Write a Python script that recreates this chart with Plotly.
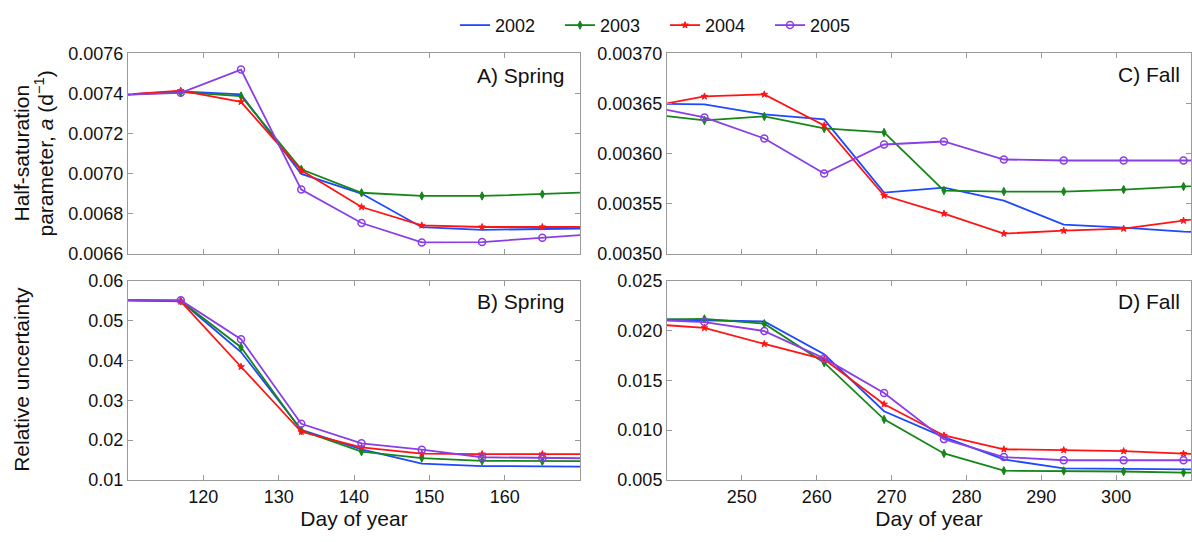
import plotly.graph_objects as go

W, H = 1192, 542

# ---------------- data ----------------
years = ["2002", "2003", "2004", "2005"]

spring_days = [109, 117, 125, 133, 141, 149, 157, 165, 173]
fall_days = [237, 245, 253, 261, 269, 277, 285, 293, 301, 309, 317]

# A) Spring: half-saturation parameter a
a_spring_2002 = [0.007393, 0.007410, 0.007395, 0.006998, 0.006900, 0.006732, 0.006719, 0.006725, 0.006727]
a_spring_2003 = [0.007393, 0.007406, 0.007387, 0.007021, 0.006904, 0.006888, 0.006888, 0.006897, 0.006908]
a_spring_2004 = [0.007393, 0.007414, 0.007358, 0.007016, 0.006833, 0.006741, 0.006733, 0.006733, 0.006733]
a_spring_2005 = [0.007393, 0.007403, 0.007519, 0.006920, 0.006753, 0.006656, 0.006658, 0.006680, 0.006701]

# B) Spring: relative uncertainty
u_spring_2002 = [0.0551, 0.0549, 0.0421, 0.0226, 0.0177, 0.0141, 0.0135, 0.0134, 0.0133]
u_spring_2003 = [0.0551, 0.0549, 0.0433, 0.0224, 0.0171, 0.0155, 0.0148, 0.0147, 0.0147]
u_spring_2004 = [0.0551, 0.0548, 0.0384, 0.0221, 0.0182, 0.0166, 0.0165, 0.0165, 0.0165]
u_spring_2005 = [0.0551, 0.0551, 0.0453, 0.0241, 0.0192, 0.0176, 0.0157, 0.0155, 0.0154]

# C) Fall: half-saturation parameter a
a_fall_2002 = [0.003650, 0.003649, 0.003639, 0.003634, 0.003561, 0.003566, 0.003553, 0.003529, 0.003526, 0.003522, 0.003520]
a_fall_2003 = [0.003640, 0.003633, 0.003637, 0.003625, 0.003621, 0.003563, 0.003562, 0.003562, 0.003564, 0.003567, 0.003570]
a_fall_2004 = [0.003646, 0.003657, 0.003659, 0.003628, 0.003558, 0.003540, 0.003520, 0.003523, 0.003525, 0.003533, 0.003541]
a_fall_2005 = [0.003648, 0.003636, 0.003615, 0.003580, 0.003609, 0.003612, 0.003594, 0.003593, 0.003593, 0.003593, 0.003593]

# D) Fall: relative uncertainty
u_fall_2002 = [0.02115, 0.02106, 0.02090, 0.01761, 0.01190, 0.00930, 0.00706, 0.00617, 0.00610, 0.00605, 0.00603]
u_fall_2003 = [0.02110, 0.02116, 0.02068, 0.01677, 0.01108, 0.00766, 0.00593, 0.00591, 0.00585, 0.00574, 0.00570]
u_fall_2004 = [0.02068, 0.02026, 0.01865, 0.01710, 0.01260, 0.00947, 0.00808, 0.00800, 0.00790, 0.00765, 0.00740]
u_fall_2005 = [0.02110, 0.02084, 0.01994, 0.01720, 0.01372, 0.00910, 0.00730, 0.00698, 0.00698, 0.00698, 0.00698]

spring_ticks = [120, 130, 140, 150, 160]
fall_ticks = [250, 260, 270, 280, 290, 300]
a_spring_ticks = [0.0066, 0.0068, 0.0070, 0.0072, 0.0074, 0.0076]
u_spring_ticks = [0.01, 0.02, 0.03, 0.04, 0.05, 0.06]
a_fall_ticks = [0.00350, 0.00355, 0.00360, 0.00365, 0.00370]
u_fall_ticks = [0.005, 0.010, 0.015, 0.020, 0.025]

# ---------------- style ----------------
FONT = "Liberation Sans, Arial, Helvetica, sans-serif"
colors = {"2002": "#1f48ff", "2003": "#16861a", "2004": "#ff1414", "2005": "#8a3ee6"}
markers = {
    "2002": None,
    "2003": dict(symbol="diamond-tall", size=6, line=dict(width=1)),
    "2004": dict(symbol="star", size=5, line=dict(width=1)),
    "2005": dict(symbol="circle-open", size=7, line=dict(width=1.5)),
}

panels = [
    ("x", "y", spring_days, [a_spring_2002, a_spring_2003, a_spring_2004, a_spring_2005], True),
    ("x2", "y2", spring_days, [u_spring_2002, u_spring_2003, u_spring_2004, u_spring_2005], False),
    ("x3", "y3", fall_days, [a_fall_2002, a_fall_2003, a_fall_2004, a_fall_2005], False),
    ("x4", "y4", fall_days, [u_fall_2002, u_fall_2003, u_fall_2004, u_fall_2005], False),
]

fig = go.Figure()
for xa, ya, days, series, show in panels:
    for yr, vals in zip(years, series):
        mk = markers[yr]
        kw = {}
        if mk is None:
            mode = "lines"
        else:
            mode = "lines+markers"
            m = dict(mk)
            m["color"] = colors[yr]
            m["line"] = dict(m["line"], color=colors[yr])
            kw["marker"] = m
        fig.add_trace(go.Scatter(
            x=days, y=vals, mode=mode, name=yr, legendgroup=yr, showlegend=show,
            line=dict(color=colors[yr], width=1.8), xaxis=xa, yaxis=ya, **kw))

axis_common = dict(
    showline=True, linecolor="#9a9a9a", linewidth=1, mirror="ticks",
    ticks="inside", ticklen=5, tickwidth=1, tickcolor="#9a9a9a",
    showgrid=False, zeroline=False,
    tickfont=dict(family=FONT, size=18, color="#111111"),
)

xl = [128 / W, 580 / W]
xr = [667 / W, 1191 / W]
yt = [1 - 253 / H, 1 - 45 / H]
yb = [1 - 488 / H, 1 - 281 / H]

xtitle = dict(text="Day of year", font=dict(family=FONT, size=21, color="#111111"), standoff=4)

fig.update_layout(
    width=W, height=H,
    margin=dict(l=0, r=0, t=0, b=0),
    paper_bgcolor="white", plot_bgcolor="white",
    font=dict(family=FONT, color="#111111"),
    xaxis=dict(axis_common, domain=xl, range=[110, 170], anchor="y",
               tickvals=spring_ticks, showticklabels=False),
    yaxis=dict(axis_common, domain=yt, range=[0.0066, 0.0076], anchor="x",
               tickvals=a_spring_ticks, tickformat=".4f"),
    xaxis2=dict(axis_common, domain=xl, range=[110, 170], anchor="y2",
                tickvals=spring_ticks, title=xtitle),
    yaxis2=dict(axis_common, domain=yb, range=[0.01, 0.06], anchor="x2",
                tickvals=u_spring_ticks, tickformat=".2f"),
    xaxis3=dict(axis_common, domain=xr, range=[240, 310], anchor="y3",
                tickvals=fall_ticks, showticklabels=False),
    yaxis3=dict(axis_common, domain=yt, range=[0.0035, 0.0037], anchor="x3",
                tickvals=a_fall_ticks, tickformat=".5f"),
    xaxis4=dict(axis_common, domain=xr, range=[240, 310], anchor="y4",
                tickvals=fall_ticks, title=xtitle),
    yaxis4=dict(axis_common, domain=yb, range=[0.005, 0.025], anchor="x4",
                tickvals=u_fall_ticks, tickformat=".3f"),
    legend=dict(orientation="h", x=455 / W, xanchor="left", y=1 - 16 / H, yanchor="middle",
                font=dict(family=FONT, size=18, color="#111111"),
                entrywidth=60, entrywidthmode="pixels", bgcolor="rgba(0,0,0,0)"),
)

ann_font = dict(family=FONT, size=21, color="#111111")
annotations = [
    dict(text="A) Spring", x=567 / W, y=1 - 68 / H, xanchor="right", yanchor="middle"),
    dict(text="B) Spring", x=567 / W, y=1 - 303 / H, xanchor="right", yanchor="middle"),
    dict(text="C) Fall", x=1182 / W, y=1 - 67 / H, xanchor="right", yanchor="middle"),
    dict(text="D) Fall", x=1182 / W, y=1 - 303 / H, xanchor="right", yanchor="middle"),
    dict(text="Half-saturation", x=22 / W, y=1 - 149 / H, xanchor="center", yanchor="middle", textangle=-90),
    dict(text="parameter, <i>a</i> (d<sup>−1</sup>)", x=44 / W, y=1 - 149 / H, xanchor="center", yanchor="middle", textangle=-90),
    dict(text="Relative uncertainty", x=22 / W, y=1 - 384 / H, xanchor="center", yanchor="middle", textangle=-90),
]
for a in annotations:
    fig.add_annotation(xref="paper", yref="paper", showarrow=False, font=ann_font, **a)

fig.write_html(
    "out.html",
    config={"displayModeBar": False},
    post_script="document.body.style.margin='0';document.body.style.padding='0';"
                "document.body.style.overflow='hidden';",
)
